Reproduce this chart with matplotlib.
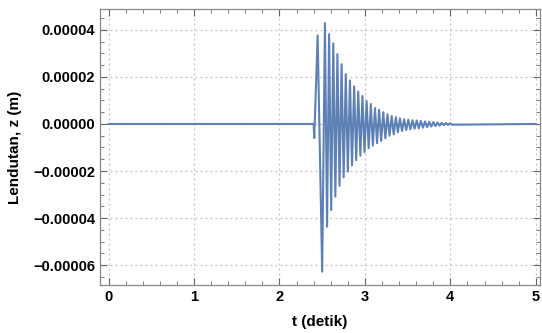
import matplotlib
matplotlib.use("Agg")
import matplotlib.pyplot as plt
from matplotlib.ticker import MultipleLocator, FuncFormatter

plt.rcParams['font.family'] = ['Liberation Sans', 'DejaVu Sans']

# Extrema (t in seconds, z in 1e-6 m)
t_pts = [0.0, 1.0, 2.40, 2.407, 2.447, 2.500,
         2.532, 2.557, 2.581, 2.605, 2.630, 2.654, 2.678, 2.703,
         2.727, 2.751, 2.776, 2.800, 2.825, 2.849, 2.874, 2.898,
         2.922, 2.947, 2.971, 2.995, 3.020, 3.044, 3.069, 3.093,
         3.118, 3.142, 3.166, 3.190, 3.215, 3.239, 3.264, 3.288,
         3.313, 3.337, 3.362, 3.386, 3.410, 3.434, 3.459, 3.483,
         3.508, 3.532, 3.557, 3.581, 3.606, 3.630, 3.654, 3.679,
         3.703, 3.728, 3.752, 3.777, 3.801, 3.825, 3.850, 3.874,
         3.898, 3.923, 3.947, 3.972, 3.996, 4.02, 5.0]
z_pts = [0.0, 0.0, 0.0, -6.0, 37.6, -62.8,
         42.9, -43.7, 38.2, -36.6, 34.3, -30.9, 29.7, -26.3,
         25.4, -22.7, 21.2, -20.2, 18.5, -17.6, 16.0, -15.4,
         13.8, -13.5, 11.9, -12.0, 9.8, -10.3, 8.5, -9.2,
         6.8, -8.2, 6.0, -7.2, 5.0, -6.1, 4.1, -5.0,
         3.4, -4.4, 2.9, -3.5, 2.4, -3.0, 2.0, -2.6,
         1.8, -2.3, 1.6, -2.0, 1.5, -1.9, 1.3, -1.6,
         1.1, -1.4, 0.9, -1.1, 0.8, -0.9, 0.6, -0.7,
         0.5, -0.5, 0.4, -0.4, 0.3, -0.3, 0.0]
z_vals = [v * 1e-6 for v in z_pts]

fig = plt.figure(figsize=(5.42, 3.33), dpi=100)
ax = fig.add_axes([0.1845, 0.144, 0.812, 0.829])

ax.plot(t_pts, z_vals, color='#5E81B5', lw=1.5)

ax.set_xlim(-0.1, 5.05)
ax.set_ylim(-0.0000685, 0.0000489)

ax.xaxis.set_major_locator(MultipleLocator(1))
ax.xaxis.set_minor_locator(MultipleLocator(0.2))
ax.yaxis.set_major_locator(MultipleLocator(0.00002))
ax.yaxis.set_minor_locator(MultipleLocator(0.000005))
ax.yaxis.set_major_formatter(FuncFormatter(lambda v, p: ('%.5f' % v).replace('-', '\u2212') if abs(v) > 1e-12 else '0.00000'))

ax.grid(True, which='major', color='#c0c0c0', ls=(0, (1.5, 2.5)), lw=0.9)
ax.tick_params(which='both', direction='in', top=True, right=True, colors='#666666',
               labelcolor='black', labelsize=10.5)
ax.tick_params(which='major', length=5, width=0.8)
ax.tick_params(which='minor', length=3, width=0.6)
for lab in ax.get_xticklabels() + ax.get_yticklabels():
    lab.set_fontweight('bold')
for s in ax.spines.values():
    s.set_color('#888888')
    s.set_linewidth(0.9)

ax.set_xlabel('t (detik)', fontsize=11, fontweight='bold', labelpad=8)
ax.set_ylabel('Lendutan, z (m)', fontsize=11, fontweight='bold', labelpad=8)

fig.savefig('out.png', dpi=100)
